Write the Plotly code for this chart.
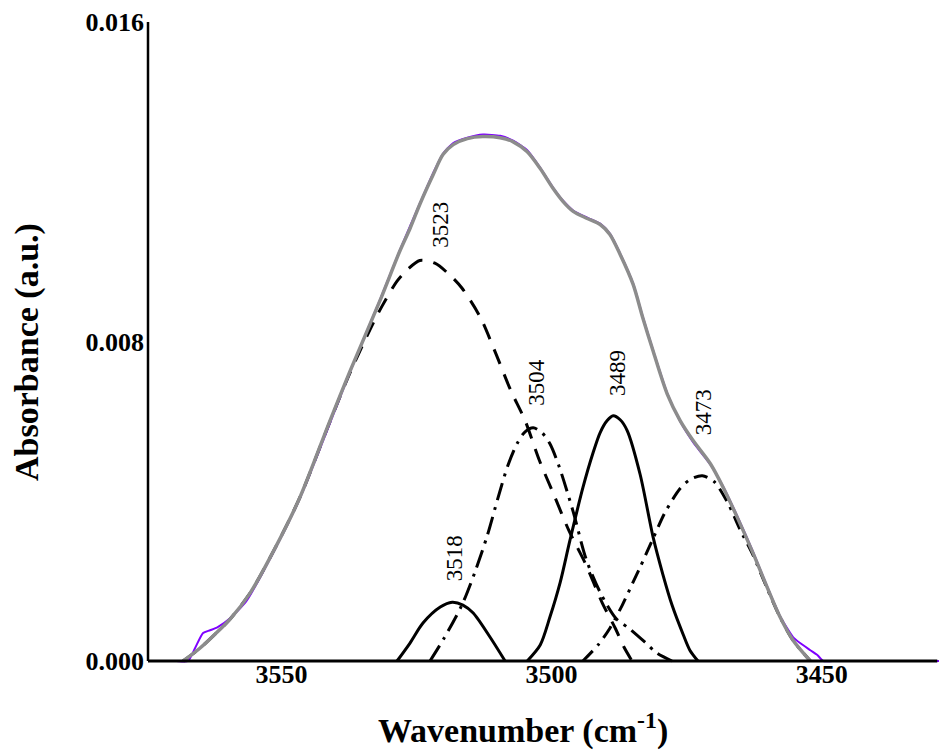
import plotly.graph_objects as go

# ---- data ----
# measured (purple) spectrum
meas_wn = [3574.7, 3572.0, 3569.5, 3567.3, 3566.0, 3564.5, 3563.2, 3561.8, 3559.5, 3556.4, 3551.2, 3546.6,
           3541.0, 3537.3, 3531.8, 3528.1, 3524.4, 3521.9, 3520.1, 3518.2, 3515.6, 3512.7,
           3509.5, 3507.1, 3504.5, 3502.1, 3499.7, 3497.9, 3496.0, 3493.4, 3491.0, 3489.2,
           3487.3, 3484.9, 3483.1, 3481.2, 3478.6, 3476.2, 3473.8, 3470.6, 3468.2, 3465.6,
           3462.7, 3460.1, 3457.7, 3455.3, 3454.0, 3452.1, 3450.8, 3449.7, 3448.0, 3445.0,
           3440.0, 3434.0, 3429.0, 3426.8]
meas_abs = [0, 0, 0, 0, 0.00032, 0.00070, 0.00077, 0.00085, 0.00107, 0.00152, 0.00280, 0.00407,
            0.00596, 0.00724, 0.00903, 0.01028, 0.01145, 0.01222, 0.01270, 0.01297, 0.01310, 0.01318,
            0.01315, 0.01303, 0.01279, 0.01235, 0.01185, 0.01153, 0.01128, 0.01110, 0.01095, 0.01070,
            0.01020, 0.00945, 0.00861, 0.00778, 0.00671, 0.00600, 0.00548, 0.00492, 0.00436, 0.00362,
            0.00273, 0.00187, 0.00112, 0.00060, 0.00045, 0.00027, 0.00015, 0, 0, 0,
            0, 0, 0, 0]

# fitted envelope (grey)
fit_wn = [3568.2, 3565.1, 3562.3, 3559.5, 3555.8, 3551.2, 3546.6, 3541.0, 3537.3, 3531.8,
          3528.1, 3526.2, 3524.4, 3521.9, 3520.1, 3518.2, 3515.6, 3512.7, 3509.5, 3507.1,
          3504.5, 3502.1, 3499.7, 3497.9, 3496.0, 3493.4, 3491.0, 3489.2, 3487.3, 3484.9,
          3483.1, 3481.2, 3478.6, 3476.2, 3473.8, 3470.6, 3468.2, 3465.6, 3462.7, 3460.1,
          3457.7, 3455.3, 3452.1]
fit_abs = [0, 0.00032, 0.00067, 0.00105, 0.00170, 0.00282, 0.00409, 0.00602, 0.00726, 0.00901,
           0.01026, 0.01083, 0.01143, 0.01218, 0.01268, 0.01293, 0.01308, 0.01313, 0.01310, 0.01300,
           0.01275, 0.01233, 0.01183, 0.01151, 0.01126, 0.01108, 0.01093, 0.01068, 0.01018, 0.00943,
           0.00859, 0.00776, 0.00669, 0.00602, 0.00552, 0.00494, 0.00434, 0.00359, 0.00270, 0.00185,
           0.00110, 0.00052, 0]

# component bands
b3523_wn = [3568.2, 3565.1, 3562.3, 3559.5, 3555.8, 3551.2, 3546.6, 3541.0, 3537.3, 3533.6,
            3531.4, 3528.6, 3526.6, 3524.4, 3521.6, 3518.8, 3516.6, 3513.2, 3510.5, 3507.5,
            3504.9, 3502.3, 3499.5, 3496.8, 3493.6, 3490.6, 3488.2, 3486.6, 3485.1]
b3523_abs = [0, 0.00032, 0.00067, 0.00105, 0.00170, 0.00282, 0.00409, 0.00600, 0.00722, 0.00830,
             0.00888, 0.00951, 0.00981, 0.01003, 0.00996, 0.00966, 0.00934, 0.00861, 0.00776, 0.00676,
             0.00602, 0.00504, 0.00414, 0.00327, 0.00240, 0.00145, 0.00082, 0.00035, 0]

b3518_wn = [3528.6, 3526.2, 3523.8, 3520.6, 3518.4, 3516.4, 3514.5, 3511.4, 3508.6]
b3518_abs = [0, 0.00045, 0.00095, 0.00135, 0.00147, 0.00140, 0.00120, 0.00060, 0]

b3504_wn = [3522.5, 3519.9, 3516.6, 3514.2, 3511.9, 3509.9, 3508.1, 3506.4, 3504.9, 3503.4,
            3501.8, 3500.3, 3498.6, 3496.0, 3493.6, 3491.0, 3488.1, 3485.5, 3482.7, 3480.5, 3477.7]
b3504_abs = [0, 0.00057, 0.00140, 0.00222, 0.00314, 0.00409, 0.00489, 0.00544, 0.00574, 0.00584,
             0.00572, 0.00544, 0.00487, 0.00374, 0.00255, 0.00172, 0.00107, 0.00080, 0.00047, 0.00020, 0]

b3489_wn = [3504.5, 3502.1, 3500.3, 3498.4, 3496.6, 3494.2, 3492.3, 3491.0, 3489.7, 3488.6,
            3487.3, 3486.0, 3483.6, 3481.2, 3479.4, 3477.7, 3475.6, 3474.4, 3472.9]
b3489_abs = [0, 0.00040, 0.00110, 0.00197, 0.00302, 0.00434, 0.00522, 0.00572, 0.00602, 0.00614,
             0.00604, 0.00577, 0.00467, 0.00310, 0.00217, 0.00140, 0.00065, 0.00027, 0]

b3473_wn = [3494.2, 3491.4, 3489.2, 3486.9, 3485.1, 3483.6, 3481.2, 3479.0, 3476.2, 3474.4,
            3472.1, 3469.9, 3467.3, 3465.1, 3462.7, 3460.1, 3457.7, 3455.3, 3452.1]
b3473_abs = [0, 0.00040, 0.00082, 0.00140, 0.00192, 0.00235, 0.00307, 0.00372, 0.00432, 0.00454,
             0.00464, 0.00449, 0.00394, 0.00329, 0.00265, 0.00182, 0.00110, 0.00052, 0]

# peak labels: text, wavenumber, absorbance position
peak_text = ["3523", "3518", "3504", "3489", "3473"]
peak_wn = [3520.6, 3517.9, 3502.7, 3487.9, 3471.9]
peak_abs = [0.01093, 0.00257, 0.00699, 0.00721, 0.00624]

x_ticks = [3550, 3500, 3450]
y_ticks = [0, 0.008, 0.016]
y_ticktext = ["0.000", "0.008", "0.016"]

X_RANGE = [3574.7, 3426.8]
Y_RANGE = [-0.0001, 0.016]

SERIF = "Liberation Serif"

# page body has an 8px margin: figure is 939x747 placed at (8, 8)
W, H = 939, 747
ML, MT, MB = 140, 12, 90
PH = H - MT - MB  # 645

fig = go.Figure()

def band(x, y, dash):
    fig.add_trace(go.Scatter(x=x, y=y, mode="lines",
                             line=dict(color="black", width=3, dash=dash, shape="spline", smoothing=0.8),
                             hoverinfo="skip", showlegend=False))

band(b3523_wn, b3523_abs, "16px,11px")
band(b3518_wn, b3518_abs, "solid")
band(b3504_wn, b3504_abs, "18px,7px,3px,7px")
band(b3489_wn, b3489_abs, "solid")
band(b3473_wn, b3473_abs, "14px,7px,3px,7px")

fig.add_trace(go.Scatter(x=meas_wn, y=meas_abs, mode="lines",
                         line=dict(color="#7f00ff", width=2, shape="spline", smoothing=0.6),
                         hoverinfo="skip", showlegend=False))
fig.add_trace(go.Scatter(x=fit_wn, y=fit_abs, mode="lines",
                         line=dict(color="#8c8c8c", width=3.5, shape="spline", smoothing=0.8),
                         hoverinfo="skip", showlegend=False))

for t, xw, ya in zip(peak_text, peak_wn, peak_abs):
    fig.add_annotation(x=xw, y=ya, text=t, showarrow=False, textangle=-90,
                       font=dict(family=SERIF, size=23, color="black"),
                       xanchor="center", yanchor="middle")

# axis lines
fig.add_shape(type="line", xref="x", yref="y", x0=X_RANGE[0], x1=3428.6, y0=0, y1=0,
              line=dict(color="black", width=3), layer="above")
fig.add_shape(type="line", xref="paper", yref="y", x0=0, x1=0, y0=0, y1=0.016,
              line=dict(color="black", width=2.5), layer="above")

# axis titles (positions in page pixels, converted to paper coords)
def px_x(px):
    return (px - 8 - ML) / (W - ML)

def px_y(py):
    return (MT + PH - (py - 8)) / PH

fig.add_annotation(xref="paper", yref="paper", x=px_x(523), y=px_y(729),
                   text="<b>Wavenumber (cm<sup>-1</sup>)</b>", showarrow=False,
                   font=dict(family=SERIF, size=34, color="black"),
                   xanchor="center", yanchor="middle")
fig.add_annotation(xref="paper", yref="paper", x=px_x(27), y=px_y(351),
                   text="<b>Absorbance (a.u.)</b>", showarrow=False, textangle=-90,
                   font=dict(family=SERIF, size=34, color="black"),
                   xanchor="center", yanchor="middle")

fig.update_layout(
    width=W, height=H,
    margin=dict(l=ML, r=0, t=MT, b=MB, pad=0),
    paper_bgcolor="white", plot_bgcolor="white",
    showlegend=False,
    xaxis=dict(range=X_RANGE, tickvals=x_ticks, ticktext=[str(v) for v in x_ticks],
               showgrid=False, zeroline=False, showline=False, ticks="",
               anchor="free", position=9 / PH, ticklabeloverflow="allow",
               tickfont=dict(family=SERIF, size=26, color="black", weight="bold")),
    yaxis=dict(range=Y_RANGE, tickvals=y_ticks, ticktext=y_ticktext,
               showgrid=False, zeroline=False, showline=False, ticks="",
               ticklabelstandoff=3, ticklabeloverflow="allow",
               tickfont=dict(family=SERIF, size=26, color="black", weight="bold")),
)

fig.write_html("out.html")
